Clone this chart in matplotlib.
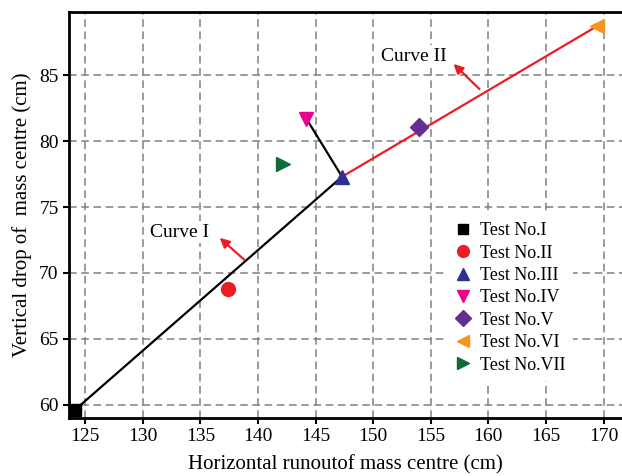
import matplotlib
matplotlib.use('Agg')
import matplotlib.pyplot as plt

# test points (horizontal runout, vertical drop), cm
labels = ['Test No.I', 'Test No.II', 'Test No.III', 'Test No.IV',
          'Test No.V', 'Test No.VI', 'Test No.VII']
runout = [124.1, 137.4, 147.3, 144.2, 154.0, 169.4, 142.2]
drop = [59.6, 68.8, 77.3, 81.7, 81.1, 88.7, 78.3]
markers = ['s', 'o', '^', 'v', 'D', '<', '>']
colors = ['black', '#ed1c24', '#2e3192', '#ec008c', '#662d91', '#f7941d', '#0f6b3a']
sizes = [9, 10, 10, 10, 9, 10, 10]

# curve I: Test I -> Test III, curve II: Test III -> Test VI
curve1_x = [124.1, 147.3]
curve1_y = [59.6, 77.3]
curve2_x = [147.3, 169.4]
curve2_y = [77.3, 88.7]
branch_x = [144.2, 147.3]
branch_y = [81.7, 77.3]

xticks = [125, 130, 135, 140, 145, 150, 155, 160, 165, 170]
yticks = [60, 65, 70, 75, 80, 85]

plt.rcParams['font.family'] = ['Liberation Serif', 'DejaVu Serif']

fig = plt.figure(figsize=(6.22, 4.76), dpi=100)
ax = fig.add_axes([0.111, 0.122, 0.889, 0.853])

ax.grid(True, linestyle=(0, (5, 3)), color='#808080', linewidth=1.1)
ax.set_axisbelow(True)

ax.plot(curve1_x, curve1_y, color='black', linewidth=1.6, zorder=3)
ax.plot(branch_x, branch_y, color='black', linewidth=1.6, zorder=3)
ax.plot(curve2_x, curve2_y, color='#ed1c24', linewidth=1.6, zorder=3)

for x, y, m, c, s, lab in zip(runout, drop, markers, colors, sizes, labels):
    ax.plot([x], [y], linestyle='none', marker=m, color=c, markersize=s,
            label=lab, zorder=4, clip_on=False)

box = dict(facecolor='white', edgecolor='none', pad=2)
ax.annotate('', xy=(136.5, 72.8), xytext=(139.0, 70.85),
            arrowprops=dict(arrowstyle='-|>', color='#ed1c24', lw=1.6,
                            mutation_scale=14))
ax.text(135.8, 73.1, 'Curve I', fontsize=14, ha='right', va='center', bbox=box)
ax.annotate('', xy=(156.8, 86.0), xytext=(159.4, 83.8),
            arrowprops=dict(arrowstyle='-|>', color='#ed1c24', lw=1.6,
                            mutation_scale=14))
ax.text(156.4, 86.4, 'Curve II', fontsize=14, ha='right', va='center', bbox=box)

ax.set_xlim(123.6, 171.6)
ax.set_ylim(59.0, 89.8)
ax.set_xticks(xticks)
ax.set_yticks(yticks)
ax.tick_params(labelsize=14, width=1.5, length=4, direction='out')
for sp in ax.spines.values():
    sp.set_linewidth(2)
ax.spines['right'].set_visible(False)

ax.set_xlabel('Horizontal runoutof mass centre (cm)', fontsize=15, labelpad=7)
ax.set_ylabel('Vertical drop of  mass centre (cm)', fontsize=15, labelpad=5)

leg = ax.legend(loc='upper left', bbox_to_anchor=(0.683, 0.5), frameon=True,
                fontsize=13, handlelength=1.0, handletextpad=0.45,
                labelspacing=0.3, borderpad=0.4, borderaxespad=0,
                markerscale=0.85, fancybox=False)
leg.get_frame().set_facecolor('white')
leg.get_frame().set_edgecolor('none')
leg.get_frame().set_alpha(1)

fig.savefig('out.png', dpi=100)
